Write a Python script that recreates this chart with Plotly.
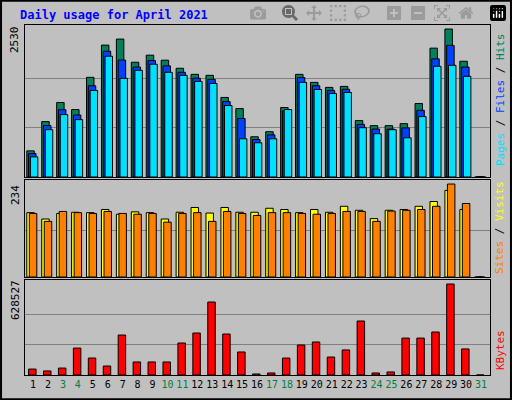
import plotly.graph_objects as go

days = list(range(1, 32))
hits = [447, 947, 1274, 1153, 1704, 2255, 2358, 1962, 2083, 1997, 1859, 1755, 1738, 1360, 1170, 688, 774, 1188, 1755, 1618, 1532, 1549, 964, 878, 878, 912, 1256, 2203, 2530, 1979, 0]
files = [400, 880, 1150, 1060, 1560, 2150, 2000, 1880, 1990, 1900, 1790, 1690, 1670, 1290, 1000, 640, 720, 1130, 1700, 1560, 1480, 1500, 900, 820, 820, 840, 1140, 2020, 2250, 1880, 0]
pages = [344, 809, 1067, 981, 1480, 2065, 1687, 1824, 1928, 1790, 1738, 1635, 1600, 1222, 654, 585, 654, 1153, 1618, 1497, 1428, 1446, 843, 740, 809, 671, 1033, 1893, 1910, 1721, 0]
visits = [162, 146, 160, 163, 162, 170, 158, 164, 162, 146, 163, 175, 161, 175, 163, 163, 173, 170, 162, 170, 163, 178, 168, 147, 168, 170, 178, 190, 218, 170, 0]
sites = [160, 140, 165, 162, 160, 165, 160, 158, 160, 138, 160, 162, 140, 165, 160, 155, 162, 162, 160, 158, 160, 165, 165, 140, 166, 168, 170, 178, 234, 185, 0]
kbytes = [41000, 28000, 48000, 186000, 117000, 62000, 276000, 90000, 90000, 90000, 221000, 290000, 504000, 283000, 159000, 7000, 14000, 117000, 207000, 228000, 124000, 173000, 373000, 14000, 21000, 255000, 255000, 297000, 628527, 180000, 0]
weekend = {3, 4, 10, 11, 17, 18, 24, 25, 31}

BG = "#C0C0C0"
fig = go.Figure()
def bars(y, color, off, ax):
    fig.add_trace(go.Bar(x=days, y=y, marker=dict(color=color, line=dict(color="black", width=1)),
                         width=0.5, offset=off, xaxis=ax[0], yaxis=ax[1], showlegend=False))
bars(hits, "#00805C", -0.42, ("x", "y"))
bars(files, "#0040FF", -0.3, ("x", "y"))
bars(pages, "#00E0FF", -0.18, ("x", "y"))
bars(visits, "#FFFF00", -0.42, ("x2", "y2"))
bars(sites, "#FF8000", -0.25, ("x2", "y2"))
bars(kbytes, "#FF0000", -0.3, ("x3", "y3"))

xr = [0.46, 31.6]
ticktext = [f"<span style='color:{'#008040' if d in weekend else 'black'}'>{d}</span>" for d in days]
common = dict(range=xr, showgrid=False, zeroline=False, showline=True, linecolor="black", mirror=True)
fig.update_layout(
    width=512, height=400, paper_bgcolor=BG, plot_bgcolor=BG, barmode="overlay",
    margin=dict(l=0, r=0, t=0, b=0),
    font=dict(family="DejaVu Sans Mono", size=11, color="black"),
    xaxis=dict(domain=[25/512, 490/512], anchor="y", showticklabels=False, **common),
    xaxis2=dict(domain=[25/512, 490/512], anchor="y2", showticklabels=False, **common),
    xaxis3=dict(domain=[25/512, 490/512], anchor="y3", tickvals=days, ticktext=ticktext, ticks="",
                tickangle=0, tickfont=dict(size=10), **common),
    yaxis=dict(domain=[0.5575, 0.9375], range=[0, 2530*151/147], tickvals=[843, 1687], showticklabels=False,
               gridcolor="#808080", zeroline=False, showline=True, linecolor="black", mirror=True),
    yaxis2=dict(domain=[0.3075, 0.55], range=[0, 234*96/92], tickvals=[117], showticklabels=False,
                gridcolor="#808080", zeroline=False, showline=True, linecolor="black", mirror=True),
    yaxis3=dict(domain=[0.0625, 0.3], range=[0, 628527*95/91], tickvals=[209509, 419018], showticklabels=False,
                gridcolor="#808080", zeroline=False, showline=True, linecolor="black", mirror=True),
)
ann = [
    dict(x=0.035, y=0.985, xref="paper", yref="paper", xanchor="left", yanchor="top", showarrow=False,
         text="<b>Daily usage for April 2021</b>", font=dict(color="#0000FF", size=12)),
    dict(x=15/512, y=1-40/400, text="2530"),
    dict(x=15/512, y=1-195/400, text="234"),
    dict(x=15/512, y=1-300/400, text="628527"),
    dict(x=500/512, y=1-100/400, text="<span style='color:#00E0FF'>Pages</span> / <span style='color:#0040FF'>Files</span> / <span style='color:#00805C'>Hits</span>"),
    dict(x=500/512, y=1-228/400, text="<span style='color:#FF8000'>Sites</span> / <span style='color:#FFFF00'>Visits</span>"),
    dict(x=500/512, y=1-350/400, text="<span style='color:#FF0000'>KBytes</span>"),
]
for a in ann[1:]:
    a.update(xref="paper", yref="paper", showarrow=False, textangle=-90, xanchor="center", yanchor="middle")
fig.update_layout(annotations=ann, shapes=[
    dict(type="rect", xref="paper", yref="paper", x0=0.002, y0=0.002, x1=0.998, y1=0.998, line=dict(color="black", width=2)),
])
fig.write_html("out.html")
with open("out.html", encoding="utf-8") as f:
    html = f.read()
html = html.replace("<body>", "<body style='margin:0;padding:0;overflow:hidden'>", 1)
with open("out.html", "w", encoding="utf-8") as f:
    f.write(html)
